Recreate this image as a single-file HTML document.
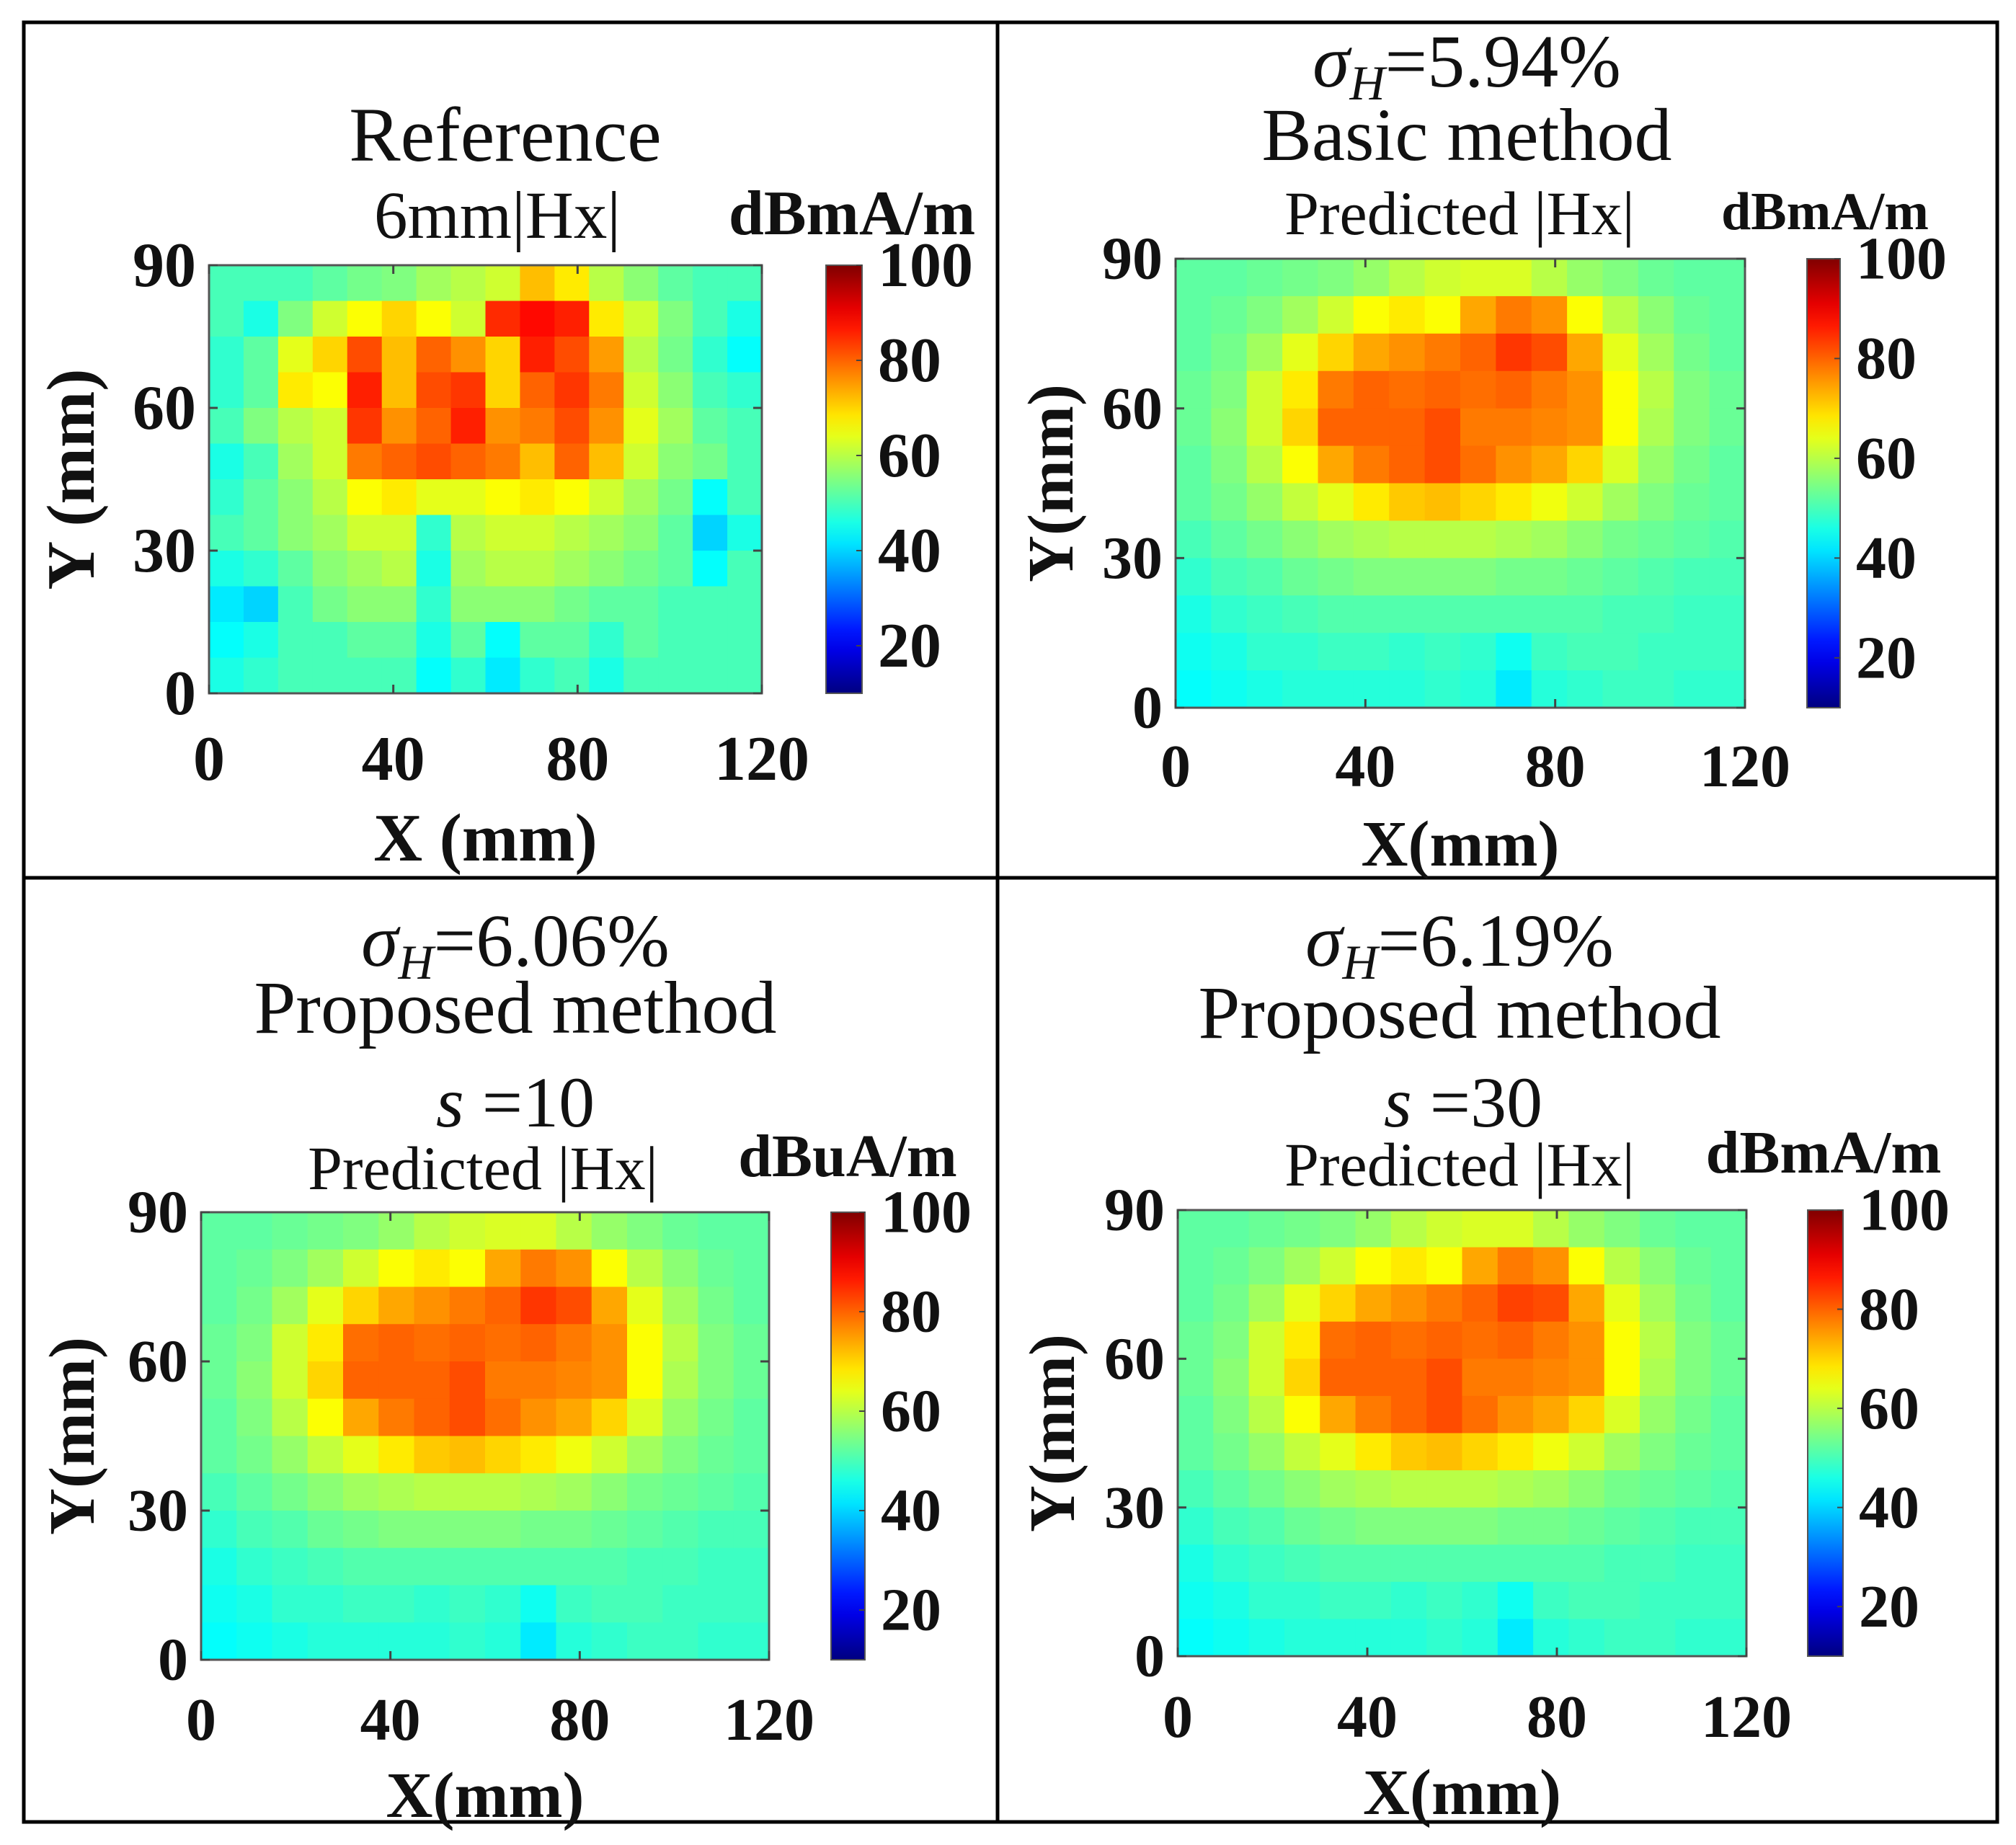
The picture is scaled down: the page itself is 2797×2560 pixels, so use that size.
<!DOCTYPE html>
<html><head><meta charset="utf-8"><style>
html,body{margin:0;padding:0;background:#fff}
svg{display:block}
text{font-family:"Liberation Serif",serif;fill:#111}
.b{font-weight:bold}
</style></head><body>
<svg id="fig" width="2797" height="2560" viewBox="0 0 2797 2560" xmlns="http://www.w3.org/2000/svg">
<rect x="0" y="0" width="2797" height="2560" fill="#fff"/>
<g id="frames">
<rect x="33" y="31" width="2738" height="2497" fill="none" stroke="#000" stroke-width="5"/>
<line x1="1384" y1="31" x2="1384" y2="2528" stroke="#000" stroke-width="5"/>
<line x1="33" y1="1218" x2="2771" y2="1218" stroke="#000" stroke-width="5"/>
</g>
<g>
<text x="701" y="223" font-size="107" text-anchor="middle">Reference</text>
<text x="690" y="330" font-size="93" text-anchor="middle">6mm|Hx|</text>
<text x="2035" y="120" font-size="104" text-anchor="middle"><tspan font-style="italic">σ</tspan><tspan font-style="italic" font-size="68" dy="18">H</tspan><tspan dy="-18">=5.94%</tspan></text>
<text x="2035" y="222" font-size="104" text-anchor="middle">Basic method</text>
<text x="2025" y="325" font-size="86" text-anchor="middle">Predicted |Hx|</text>
<text x="715" y="1340" font-size="104" text-anchor="middle"><tspan font-style="italic">σ</tspan><tspan font-style="italic" font-size="68" dy="18">H</tspan><tspan dy="-18">=6.06%</tspan></text>
<text x="715" y="1433" font-size="104" text-anchor="middle">Proposed method</text>
<text x="715" y="1563" font-size="100" text-anchor="middle"><tspan font-style="italic">s</tspan> =10</text>
<text x="670" y="1650" font-size="86" text-anchor="middle">Predicted |Hx|</text>
<text x="2025" y="1340" font-size="104" text-anchor="middle"><tspan font-style="italic">σ</tspan><tspan font-style="italic" font-size="68" dy="18">H</tspan><tspan dy="-18">=6.19%</tspan></text>
<text x="2025" y="1440" font-size="104" text-anchor="middle">Proposed method</text>
<text x="2030" y="1563" font-size="100" text-anchor="middle"><tspan font-style="italic">s</tspan> =30</text>
<text x="2025" y="1645" font-size="86" text-anchor="middle">Predicted |Hx|</text>
</g>
</svg>
<script>
// Data grids: rows from Y=90 (top) down to Y=0, columns from X=0 to X=120 (dBmA/m)
var refGrid = [
[50,50,50,52,54,55,58,60,62,72,68,60,56,52,50,50],
[50,46,55,62,66,70,66,62,85,88,86,68,62,55,50,46],
[48,52,64,70,82,72,80,76,70,86,82,75,60,54,48,44],
[48,52,68,66,86,72,82,84,70,80,84,78,62,56,50,48],
[50,55,60,62,84,76,80,86,76,78,82,76,64,58,52,50],
[46,50,58,62,78,80,82,80,78,72,80,72,62,56,54,50],
[48,52,56,60,66,68,64,64,66,68,66,62,58,54,44,50],
[50,52,56,58,62,62,48,60,62,62,60,58,56,52,40,46],
[46,48,52,56,58,60,46,58,60,60,58,56,54,52,44,50],
[42,40,50,54,56,56,48,56,56,56,54,52,52,50,50,50],
[44,46,50,50,52,52,46,52,44,52,52,48,52,50,50,50],
[46,48,50,50,50,50,44,48,42,48,50,46,50,50,50,50]];
var basicGrid = [
[52,52,53,54,55,57,60,62,63,63,60,57,55,53,52,52],
[52,53,55,58,62,66,68,66,74,78,76,66,60,56,53,52],
[52,54,58,64,70,74,76,78,80,84,82,74,64,58,54,52],
[53,55,62,68,78,80,79,80,79,80,78,76,66,60,55,53],
[53,56,62,70,80,80,80,82,78,78,77,76,66,59,55,53],
[52,55,60,66,74,78,80,82,79,76,74,70,63,57,54,52],
[52,54,57,61,64,68,71,72,70,68,65,62,58,55,53,52],
[50,52,54,56,58,59,60,60,60,59,58,56,54,53,52,51],
[48,50,51,53,54,55,55,55,55,54,54,53,52,51,50,50],
[46,48,49,50,51,51,51,51,51,51,51,51,50,50,49,49],
[45,46,48,48,49,49,48,49,48,45,49,50,50,49,49,49],
[44,45,46,47,47,47,47,48,47,42,47,48,49,49,48,48]];
var s10Grid = [
[52,52,53,54,55,57,60,62,63,63,60,57,55,53,52,52],
[52,53,55,58,62,66,68,66,74,78,76,66,60,56,53,52],
[52,54,58,64,70,74,76,78,80,84,82,74,64,58,54,52],
[53,55,62,68,79,80,79,80,79,80,78,76,66,60,55,53],
[53,56,62,70,80,80,80,82,78,78,77,76,66,59,55,53],
[52,55,60,66,74,78,80,82,79,76,74,70,63,57,54,52],
[52,54,57,61,64,68,71,72,70,68,65,62,58,55,53,52],
[50,52,54,56,58,59,60,60,60,59,58,56,54,53,52,51],
[48,50,51,53,54,55,55,55,55,54,54,53,52,51,50,50],
[46,48,49,50,51,51,51,51,51,51,51,51,50,50,49,49],
[45,46,48,48,49,49,48,49,48,45,49,50,50,49,49,49],
[44,45,46,47,47,47,47,48,47,42,47,48,49,49,48,48]];
var s30Grid = [
[52,52,53,54,55,57,60,62,63,63,60,57,55,53,52,52],
[52,53,55,58,62,66,68,66,74,78,76,66,60,56,53,52],
[52,54,58,64,70,74,76,78,80,83,82,74,64,58,54,52],
[53,55,62,68,79,80,79,80,79,80,78,76,66,60,55,53],
[53,56,62,70,80,80,80,82,78,78,77,76,66,59,55,53],
[52,55,60,66,74,78,80,82,79,76,74,70,63,57,54,52],
[52,54,57,61,64,68,71,72,70,68,65,62,58,55,53,52],
[50,52,54,56,58,59,60,60,60,59,58,56,54,53,52,51],
[48,50,51,53,54,55,55,55,55,54,54,53,52,51,50,50],
[46,48,49,50,51,51,51,51,51,51,51,51,50,50,49,49],
[45,46,48,48,49,49,48,49,48,45,49,50,50,49,49,49],
[44,45,46,47,47,47,47,48,47,42,47,48,49,49,48,48]];
var xTicks = [0,40,80,120];
var yTicks = [0,30,60,90];
var cbTicks = [20,40,60,80,100];
var xDomain = [0,120];
var yDomain = [0,90];
var cDomain = [10,100];

var NS = "http://www.w3.org/2000/svg";
var svg = document.getElementById('fig');
function mk(tag, attrs, parent){var e=document.createElementNS(NS,tag);for(var k in attrs)e.setAttribute(k,attrs[k]);(parent||svg).appendChild(e);return e;}
function jet(v){
  var t=(v-cDomain[0])/(cDomain[1]-cDomain[0]);t=Math.max(0,Math.min(1,t));
  function c(x){return Math.round(255*Math.max(0,Math.min(1,x)));}
  var r=c(Math.min(4*t-1.5,-4*t+4.5)),g=c(Math.min(4*t-0.5,-4*t+3.5)),b=c(Math.min(4*t+0.5,-4*t+2.5));
  return 'rgb('+r+','+g+','+b+')';
}
var panels = [
 {grid:refGrid,name:'reference',x0:290,x1:1057,y0:368,y1:962,cb:[1146,1196],unit:'dBmA/m',ux:1182,uy:325,us:88,tf:88,xtb:1082,xl:'X (mm)',xlb:1194,yl:'Y (mm)',ylx:130},
 {grid:basicGrid,name:'basic',x0:1631,x1:2421,y0:359,y1:982,cb:[2507,2553],unit:'dBmA/m',ux:2532,uy:318,us:74,tf:84,xtb:1091,xl:'X(mm)',xlb:1201,yl:'Y(mm)',ylx:1488},
 {grid:s10Grid,name:'s10',x0:279,x1:1067,y0:1682,y1:2303,cb:[1153,1200],unit:'dBuA/m',ux:1176,uy:1632,us:84,tf:84,xtb:2414,xl:'X(mm)',xlb:2521,yl:'Y(mm)',ylx:130},
 {grid:s30Grid,name:'s30',x0:1634,x1:2423,y0:1679,y1:2298,cb:[2508,2557],unit:'dBmA/m',ux:2530,uy:1627,us:84,tf:84,xtb:2410,xl:'X(mm)',xlb:2517,yl:'Y(mm)',ylx:1490}
];
panels.forEach(function(p){
  var g=mk('g',{});
  
  
  var sx=function(v){return p.x0+(v-xDomain[0])/(xDomain[1]-xDomain[0])*(p.x1-p.x0);};
  var sy=function(v){return p.y1-(v-yDomain[0])/(yDomain[1]-yDomain[0])*(p.y1-p.y0);};
  var rows=p.grid.length, cols=p.grid[0].length;
  var dx=(xDomain[1]-xDomain[0])/cols, dy=(yDomain[1]-yDomain[0])/rows;
  for(var r=0;r<rows;r++)for(var c=0;c<cols;c++){
    var yTop=yDomain[1]-r*dy, xL=xDomain[0]+c*dx;
    var cell=mk('rect',{x:sx(xL),y:sy(yTop),width:sx(xL+dx)-sx(xL)+0.6,height:sy(yTop-dy)-sy(yTop)+0.6,fill:jet(p.grid[r][c])},g);
    
    
  }
  var border=mk('rect',{x:p.x0,y:p.y0,width:p.x1-p.x0,height:p.y1-p.y0,fill:'none',stroke:'#555','stroke-width':3},g);
  
  
  xTicks.forEach(function(t){
    var X=sx(t);
    mk('line',{x1:X,y1:p.y1,x2:X,y2:p.y1-12,stroke:'#444','stroke-width':3},g);
    mk('line',{x1:X,y1:p.y0,x2:X,y2:p.y0+12,stroke:'#444','stroke-width':3},g);
    var tx=mk('text',{x:X,y:p.xtb,'font-size':p.tf,'text-anchor':'middle','class':'b'},g);
    tx.textContent=t;
    
    
  });
  yTicks.forEach(function(t){
    var Y=sy(t);
    mk('line',{x1:p.x0,y1:Y,x2:p.x0+12,y2:Y,stroke:'#444','stroke-width':3},g);
    mk('line',{x1:p.x1,y1:Y,x2:p.x1-12,y2:Y,stroke:'#444','stroke-width':3},g);
    var ty=mk('text',{x:p.x0-18,y:Y+p.tf*0.33,'font-size':p.tf,'text-anchor':'end','class':'b'},g);
    ty.textContent=t;
    
    
  });
  var xl=mk('text',{x:(p.x0+p.x1)/2,y:p.xlb,'font-size':p.tf+6,'text-anchor':'middle','class':'b'},g);
  xl.textContent=p.xl;
  
  
  var ym=(p.y0+p.y1)/2;
  var yl=mk('text',{x:p.ylx,y:ym,'font-size':p.tf+6,'text-anchor':'middle','class':'b',transform:'rotate(-90 '+p.ylx+' '+ym+')'},g);
  yl.textContent=p.yl;
  
  
  var gid='grad-'+p.name;
  var defs=mk('defs',{},g);
  var lg=mk('linearGradient',{id:gid,x1:0,y1:1,x2:0,y2:0},defs);
  for(var i=0;i<=20;i++){var v=cDomain[0]+i/20*(cDomain[1]-cDomain[0]);mk('stop',{offset:(i/20),'stop-color':jet(v)},lg);}
  var cb=mk('rect',{x:p.cb[0],y:p.y0,width:p.cb[1]-p.cb[0],height:p.y1-p.y0,fill:'url(#'+gid+')',stroke:'#555','stroke-width':2},g);
  
  
  var cy=function(v){return p.y1-(v-cDomain[0])/(cDomain[1]-cDomain[0])*(p.y1-p.y0);};
  cbTicks.forEach(function(t){
    var Y=cy(t);
    mk('line',{x1:p.cb[1],y1:Y,x2:p.cb[1]-8,y2:Y,stroke:'#444','stroke-width':2},g);
    var ct=mk('text',{x:p.cb[1]+22,y:Y+p.tf*0.33,'font-size':p.tf,'class':'b'},g);
    ct.textContent=t;
    
    
  });
  var u=mk('text',{x:p.ux,y:p.uy,'font-size':p.us,'text-anchor':'middle','class':'b'},g);
  u.textContent=p.unit;
  
  
});
</script>
</body></html>
